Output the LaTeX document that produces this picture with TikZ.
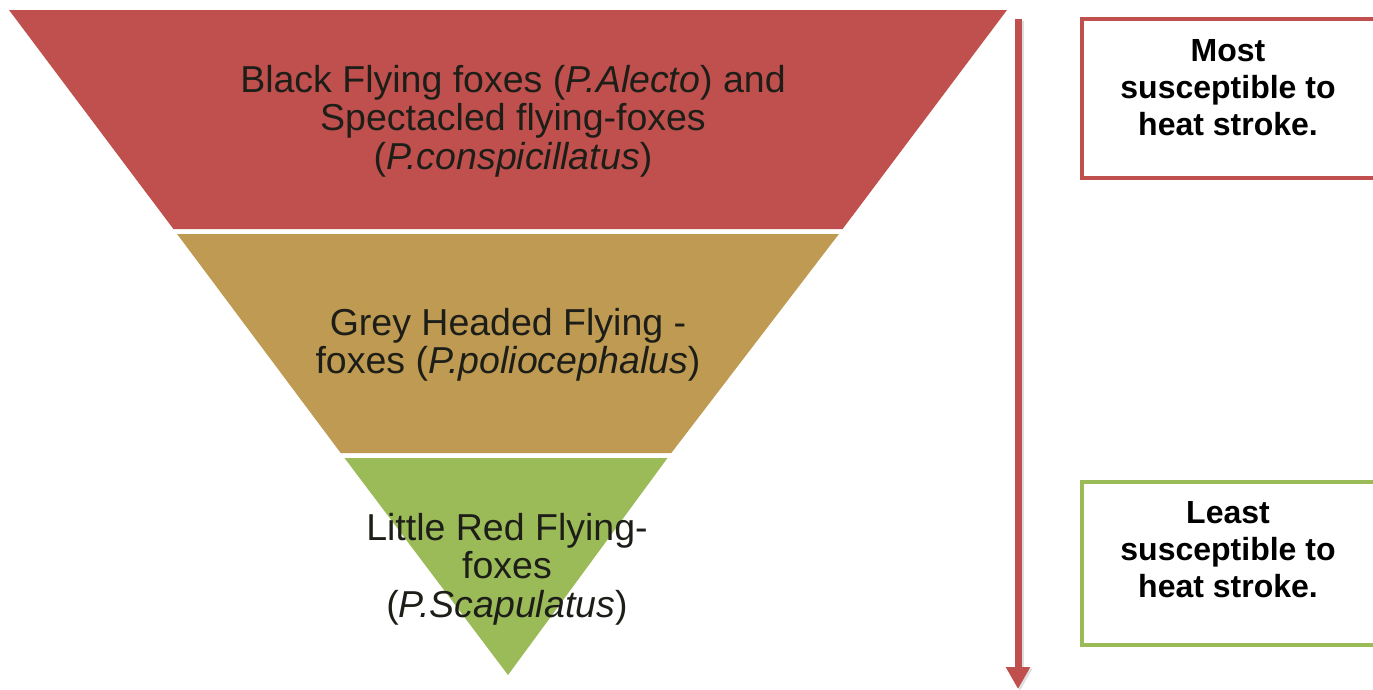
\documentclass[tikz,border=0pt]{standalone}
\usepackage{fontspec}
\setmainfont{Liberation Sans}
\usetikzlibrary{arrows.meta}
\definecolor{tred}{HTML}{C0504D}
\definecolor{ttan}{HTML}{BE9A52}
\definecolor{tgreen}{HTML}{9BBB59}
\definecolor{ttext}{HTML}{1E1E19}
\tikzset{
  layertext/.style={align=center, text=ttext, font=\fontsize{37.5}{38.5}\selectfont, inner sep=0pt},
  boxtext/.style={align=center, text=black, font=\fontsize{32}{37}\selectfont\bfseries, inner sep=0pt},
  sidebox/.style={line width=4pt},
}
\begin{document}
\begin{tikzpicture}[x=1pt,y=-1pt]
\useasboundingbox (0,0) rectangle (1373,689);
\clip (0,0) rectangle (1373,689);
% layers
\fill[tred] (9,10) -- (1007,10) -- (842.6,229) -- (173.4,229) -- cycle;
\fill[ttan] (177.1,234) -- (838.9,234) -- (671.3,453) -- (340.7,453) -- cycle;
\fill[tgreen] (344.5,458) -- (667.5,458) -- (508,675) -- cycle;
\node[layertext] (l1) at (513,121) {Black Flying foxes (\textit{P.Alecto}) and\\Spectacled flying-foxes\\(\textit{P.conspicillatus})};
\node[layertext] (l2) at (508,345) {Grey Headed Flying -\\foxes (\textit{P.poliocephalus})};
\node[layertext] (l3) at (507,569) {Little Red Flying-\\foxes\\(\textit{P.Scapulatus})};
% arrow
\coordinate (as) at (1018,19);
\coordinate (ae) at (1018,689);
\draw[line width=7pt, black!25, opacity=0.5, -{Triangle[width=23pt,length=22pt]}] ([xshift=2pt,yshift=-2pt]as) -- ([xshift=2pt,yshift=-2pt]ae);
\draw[line width=7pt, tred, -{Triangle[width=23pt,length=22pt]}] (as) -- (ae);
% side boxes
\draw[sidebox, tred] (1082,19) rectangle (1400,178);
\draw[sidebox, tgreen] (1082,482) rectangle (1400,645);
\node[boxtext] (b1) at (1228,88) {Most\\susceptible to\\heat stroke.};
\node[boxtext] (b2) at (1228,550) {Least\\susceptible to\\heat stroke.};
\end{tikzpicture}
\end{document}
